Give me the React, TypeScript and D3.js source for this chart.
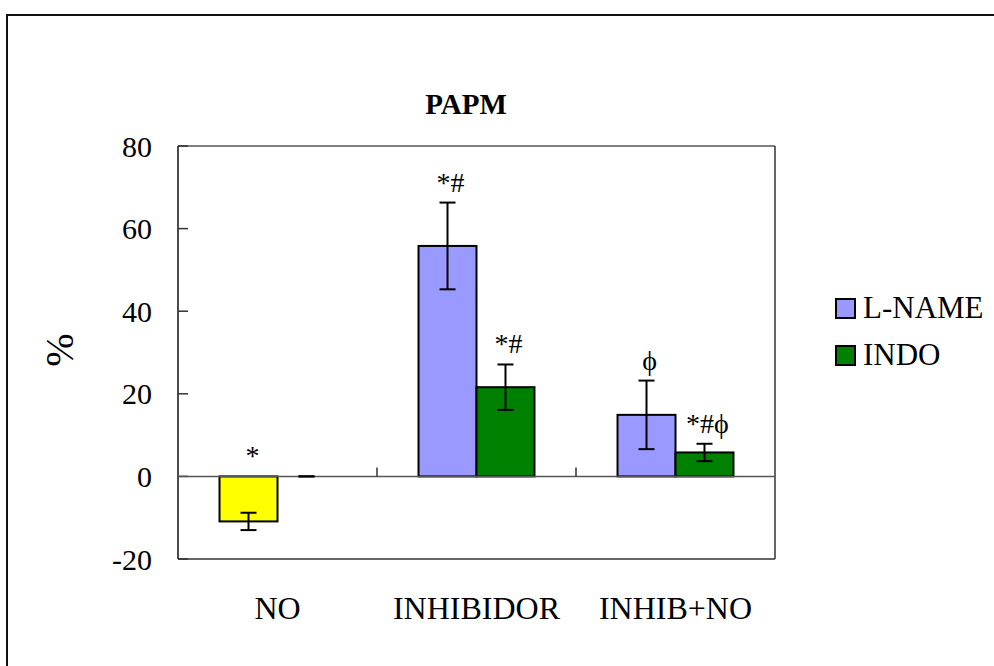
import React from "react";
import * as d3 from "d3";

const categories = ["NO", "INHIBIDOR", "INHIB+NO"];
const seriesNames = ["L-NAME", "INDO"];
const seriesColors = ["#9999FF", "#008000"];
const firstBarColor = "#FFFF00";
const lnameValues = [-10.9, 55.8, 14.9];
const lnameErrors = [2.1, 10.5, 8.3];
const indoValues = [0, 21.6, 5.8];
const indoErrors = [0, 5.5, 2.1];
const lnameMarks = ["*", "*#", "ϕ"];
const indoMarks = ["", "*#", "*#ϕ"];
const yTicks = [-20, 0, 20, 40, 60, 80];

const W = 994;
const H = 666;
const plot = { left: 178, top: 146, right: 775, bottom: 559 };
const font = "'Liberation Serif', 'Times New Roman', serif";

function App() {
  const x = d3.scaleBand().domain(categories).range([plot.left, plot.right]).padding(0);
  const xSub = d3.scaleBand().domain(seriesNames).range([0, x.bandwidth()]).paddingOuter(0.716);
  const y = d3.scaleLinear().domain([-20, 80]).range([plot.bottom, plot.top]);

  const bars = categories.flatMap((c, i) => [
    { cat: c, s: seriesNames[0], v: lnameValues[i], e: lnameErrors[i], mark: lnameMarks[i],
      color: i === 0 ? firstBarColor : seriesColors[0] },
    { cat: c, s: seriesNames[1], v: indoValues[i], e: indoErrors[i], mark: indoMarks[i],
      color: seriesColors[1] },
  ]);

  const capW = 16;

  return (
    <svg width={W} height={H} fontFamily={font} style={{ position: "absolute", left: 0, top: 0, background: "#fff" }}>
      {/* outer frame */}
      <rect x={7} y={15} width={W + 20} height={H + 20} fill="none" stroke="#111" strokeWidth={2} />

      <text x={466} y={114} textAnchor="middle" fontWeight="bold" fontSize={29}>
        PAPM
      </text>

      {/* plot frame */}
      <line x1={plot.left} x2={plot.right} y1={plot.top} y2={plot.top} stroke="#555" strokeWidth={1.5} />
      <line x1={plot.right} x2={plot.right} y1={plot.top} y2={plot.bottom} stroke="#333" strokeWidth={1.5} />
      <line x1={plot.left} x2={plot.right} y1={plot.bottom} y2={plot.bottom} stroke="#333" strokeWidth={1.5} />
      <line x1={plot.left} x2={plot.left} y1={plot.top} y2={plot.bottom} stroke="#111" strokeWidth={1.5} />

      {yTicks.map((t) => (
        <g key={t}>
          <line x1={plot.left} x2={plot.left + 10} y1={y(t)} y2={y(t)} stroke="#333" strokeWidth={1.5} />
          <text x={152} y={y(t)} dy="0.35em" textAnchor="end" fontSize={30}>
            {t}
          </text>
        </g>
      ))}

      <text transform={`translate(73,350) rotate(-90)`} textAnchor="middle" fontSize={40}>
        %
      </text>

      {/* bars */}
      {bars.map((b, i) => {
        const bx = (x(b.cat) as number) + (xSub(b.s) as number);
        const top = y(Math.max(0, b.v));
        const h = Math.abs(y(b.v) - y(0));
        return (
          <g key={i}>
            {h > 0 && (
              <rect x={bx} y={top} width={xSub.bandwidth()} height={h} fill={b.color} stroke="#000" strokeWidth={2} />
            )}
          </g>
        );
      })}

      {/* zero line + category ticks */}
      <line x1={plot.left} x2={plot.right} y1={y(0)} y2={y(0)} stroke="#555" strokeWidth={1.5} />
      {categories.slice(1).map((c) => (
        <line key={c} x1={x(c) as number} x2={x(c) as number} y1={y(0) - 9} y2={y(0)} stroke="#333" strokeWidth={1.5} />
      ))}

      {bars.map((b, i) => {
        const cx = (x(b.cat) as number) + (xSub(b.s) as number) + xSub.bandwidth() / 2;
        const markY = Math.min(y(0), y(b.v + b.e)) - 11;
        return (
          <g key={"e" + i}>
            <line x1={cx} x2={cx} y1={y(b.v + b.e)} y2={y(b.v - b.e)} stroke="#000" strokeWidth={2} />
            <line x1={cx - capW / 2} x2={cx + capW / 2} y1={y(b.v + b.e)} y2={y(b.v + b.e)} stroke="#000" strokeWidth={2} />
            <line x1={cx - capW / 2} x2={cx + capW / 2} y1={y(b.v - b.e)} y2={y(b.v - b.e)} stroke="#000" strokeWidth={2} />
            {b.mark && (
              <text x={cx + (i === 0 ? 4 : 3)} y={markY} textAnchor="middle" fontSize={28}>
                {b.mark}
              </text>
            )}
          </g>
        );
      })}

      {categories.map((c) => (
        <text key={c} x={(x(c) as number) + x.bandwidth() / 2} y={619} textAnchor="middle" fontSize={32}>
          {c}
        </text>
      ))}

      {/* legend */}
      {seriesNames.map((s, i) => (
        <g key={s} transform={`translate(836,${299 + i * 47})`}>
          <rect x={0} y={0} width={19} height={19} fill={seriesColors[i]} stroke="#000" strokeWidth={2} />
          <text x={27} y={19} fontSize={31}>
            {s}
          </text>
        </g>
      ))}
    </svg>
  );
}

export default App;
